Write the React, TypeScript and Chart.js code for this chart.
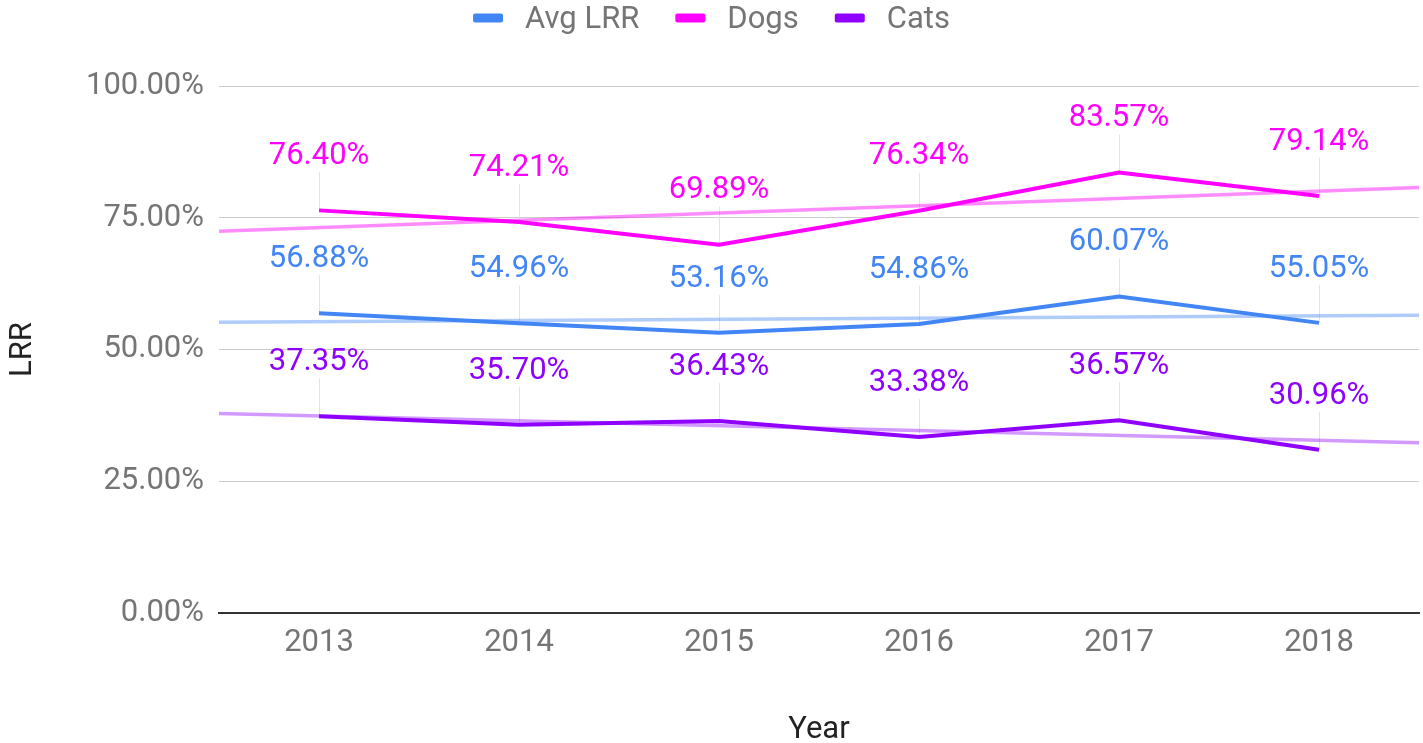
import { useEffect, useRef } from 'react';
import { Chart, registerables } from 'chart.js';

Chart.register(...registerables);

const years = ['2013', '2014', '2015', '2016', '2017', '2018'];
const avgLrr = [56.88, 54.96, 53.16, 54.86, 60.07, 55.05];
const dogs = [76.4, 74.21, 69.89, 76.34, 83.57, 79.14];
const cats = [37.35, 35.7, 36.43, 33.38, 36.57, 30.96];
const yTickValues = [0, 25, 50, 75, 100];

const seriesNames = ['Avg LRR', 'Dogs', 'Cats'];
const seriesValues = [avgLrr, dogs, cats];
const seriesColors = ['#4285f4', '#ff00ff', '#8f00ff'];
const trendColors = ['rgba(66,133,244,0.42)', 'rgba(255,0,255,0.45)', 'rgba(143,0,255,0.4)'];

const FONT = 'Roboto, "Noto Sans", sans-serif';
const FS = 31;

function trendPoints(values: number[]) {
  const n = values.length;
  const xs = values.map((_, i) => i);
  const mx = xs.reduce((a, b) => a + b, 0) / n;
  const my = values.reduce((a, b) => a + b, 0) / n;
  let sxy = 0;
  let sxx = 0;
  xs.forEach((x, i) => {
    sxy += (x - mx) * (values[i] - my);
    sxx += (x - mx) * (x - mx);
  });
  const slope = sxy / sxx;
  const f = (x: number) => my + slope * (x - mx);
  return [
    { x: -0.5, y: f(-0.5) },
    { x: n - 0.5, y: f(n - 0.5) },
  ];
}

const labelsPlugin = {
  id: 'dataLabels',
  beforeDatasetsDraw(chart: any) {
    const ctx = chart.ctx;
    ctx.save();
    ctx.strokeStyle = '#e3e3e3';
    ctx.lineWidth = 1;
    chart.data.datasets.forEach((ds: any, di: number) => {
      if (!ds.isMain) return;
      const meta = chart.getDatasetMeta(di);
      meta.data.forEach((pt: any) => {
        const x = Math.round(pt.x) + 0.5;
        ctx.beginPath();
        ctx.moveTo(x, pt.y - 38);
        ctx.lineTo(x, pt.y);
        ctx.stroke();
      });
    });
    ctx.restore();
  },
  afterDatasetsDraw(chart: any) {
    const ctx = chart.ctx;
    ctx.save();
    ctx.font = `${FS}px ${FONT}`;
    ctx.textAlign = 'center';
    ctx.textBaseline = 'middle';
    chart.data.datasets.forEach((ds: any, di: number) => {
      if (!ds.isMain) return;
      const meta = chart.getDatasetMeta(di);
      meta.data.forEach((pt: any, i: number) => {
        ctx.fillStyle = ds.labelColor;
        ctx.fillText(ds.data[i].y.toFixed(2) + '%', pt.x, pt.y - 54);
      });
    });
    ctx.restore();
  },
};

const legendPlugin = {
  id: 'customLegend',
  afterDraw(chart: any) {
    const ctx = chart.ctx;
    ctx.save();
    ctx.font = `${FS}px ${FONT}`;
    ctx.textBaseline = 'middle';
    ctx.textAlign = 'left';
    const swW = 30;
    const swH = 9;
    const gap = 22;
    const itemGap = 36;
    const widths = seriesNames.map((n) => ctx.measureText(n).width);
    const total = widths.reduce((a, w) => a + swW + gap + w, 0) + itemGap * (seriesNames.length - 1);
    let x = chart.width / 2 - total / 2;
    const cy = 18;
    seriesNames.forEach((name, i) => {
      ctx.fillStyle = seriesColors[i];
      ctx.beginPath();
      (ctx as any).roundRect(x, cy - swH / 2, swW, swH, 2);
      ctx.fill();
      ctx.fillStyle = '#757575';
      ctx.fillText(name, x + swW + gap, cy + 2);
      x += swW + gap + widths[i] + itemGap;
    });
    ctx.restore();
  },
};

export default function App() {
  const canvasRef = useRef<HTMLCanvasElement | null>(null);

  useEffect(() => {
    if (!canvasRef.current) return;
    const mainSets = seriesNames.map((name, si) => ({
      label: name,
      isMain: true,
      labelColor: seriesColors[si],
      data: seriesValues[si].map((v, i) => ({ x: i, y: v })),
      borderColor: seriesColors[si],
      backgroundColor: seriesColors[si],
      borderWidth: 4,
      pointRadius: 0,
      pointHoverRadius: 0,
      tension: 0,
      order: 0,
    }));
    const trendSets = seriesNames.map((name, si) => ({
      label: name + ' trend',
      isMain: false,
      data: trendPoints(seriesValues[si]),
      borderColor: trendColors[si],
      backgroundColor: trendColors[si],
      borderWidth: 3.5,
      pointRadius: 0,
      pointHoverRadius: 0,
      order: 1,
    }));

    const chart = new Chart(canvasRef.current, {
      type: 'line',
      data: { datasets: [...mainSets, ...trendSets] as any },
      options: {
        animation: false,
        responsive: false,
        layout: { padding: { top: 86, right: 4, bottom: 0, left: 0 } },
        plugins: {
          legend: { display: false },
          tooltip: { enabled: false },
        },
        scales: {
          x: {
            type: 'linear',
            min: -0.5,
            max: years.length - 0.5,
            afterBuildTicks: (scale: any) => {
              scale.ticks = years.map((_, i) => ({ value: i }));
            },
            afterFit: (scale: any) => {
              scale.height = 130;
            },
            ticks: {
              callback: (v: any) => years[v as number] ?? '',
              color: '#757575',
              font: { family: FONT, size: FS },
              padding: 12,
              maxRotation: 0,
              autoSkip: false,
            },
            grid: { display: false, drawTicks: false },
            border: { display: true, color: '#333333', width: 2 },
            title: {
              display: true,
              text: 'Year',
              color: '#222222',
              font: { family: FONT, size: FS, lineHeight: 0.8 },
              padding: { top: 0, bottom: 0 },
            },
          },
          y: {
            min: 0,
            max: 100,
            afterBuildTicks: (scale: any) => {
              scale.ticks = yTickValues.map((v) => ({ value: v }));
            },
            afterFit: (scale: any) => {
              scale.width = 219;
            },
            ticks: {
              callback: (v: any) => Number(v).toFixed(2) + '%',
              color: '#757575',
              font: { family: FONT, size: FS },
              padding: 15,
            },
            grid: {
              drawTicks: false,
              color: (c: any) => (c.tick && c.tick.value === 0 ? 'rgba(0,0,0,0)' : '#cccccc'),
              lineWidth: 1,
            },
            border: { display: false },
            title: {
              display: true,
              text: 'LRR',
              color: '#222222',
              font: { family: FONT, size: FS, lineHeight: 1 },
              padding: { top: 8, bottom: 0 },
            },
          },
        },
      },
      plugins: [labelsPlugin, legendPlugin],
    } as any);

    return () => chart.destroy();
  }, []);

  return (
    <canvas
      ref={canvasRef}
      width={1423}
      height={743}
      style={{ position: 'fixed', left: 0, top: 0, width: 1423, height: 743, display: 'block' }}
    />
  );
}
